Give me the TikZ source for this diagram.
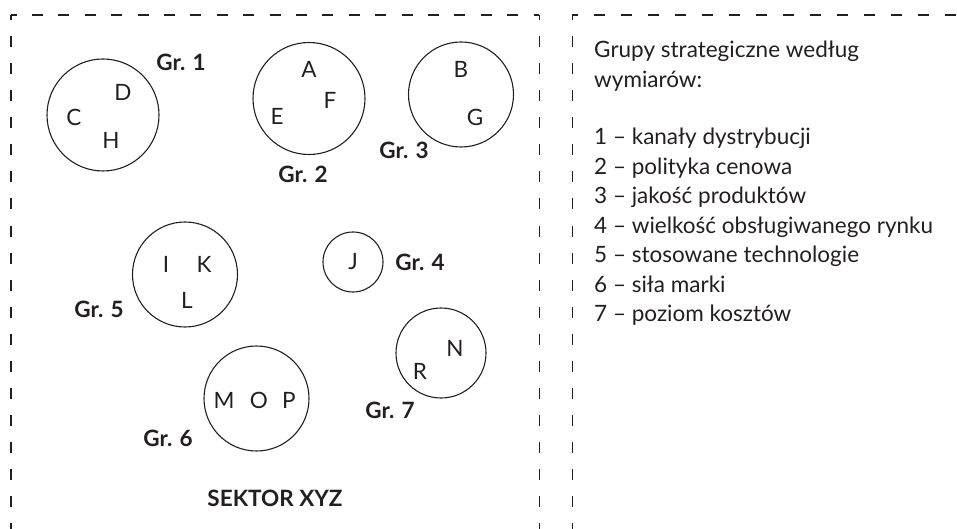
\documentclass[tikz,border=0pt]{standalone}
\usepackage{fontspec}
\setmainfont{Lato}
\usetikzlibrary{positioning}

\definecolor{ink}{HTML}{231F20}

\begin{document}
\begin{tikzpicture}[x=1pt,y=-1pt,
        every node/.style={text=ink,font=\fontsize{22.5}{27}\selectfont},
        frame/.style={draw=ink,line width=1.1pt,dash pattern=on 11pt off 16pt,dash phase=5.5pt}]

    \useasboundingbox (0,0) rectangle (957,529);
    \clip (0,0) rectangle (957,529);

    % dashed frames, open at the bottom
    \coordinate (tl) at (11,15);
    \coordinate (tr) at (539.3,15);
    \coordinate (ltl) at (572.3,15);
    \draw[frame] (tl) -- (11,545);
    \draw[frame,dash pattern=on 11pt off 15.4pt] (tl) -- (tr);
    \draw[frame] (tr) -- (539.3,545);
    \draw[frame] (ltl) -- (ltl -| 970,0);
    \draw[frame] (ltl) -- (572.3,545);

    % strategic groups
    \begin{scope}[every node/.style={circle,draw=ink,line width=1.1pt,inner sep=0pt}]
        \node[minimum size=112pt] (gr1) at (103,115) {};
        \node[minimum size=112pt] (gr2) at (309,98.5) {};
        \node[minimum size=105pt] (gr3) at (461,94.5) {};
        \node[minimum size=60pt]  (gr4) at (353,262) {};
        \node[minimum size=105pt] (gr5) at (185,274.5) {};
        \node[minimum size=105pt] (gr6) at (256.5,398.5) {};
        \node[minimum size=90pt]  (gr7) at (441,353) {};
    \end{scope}

    % firms
    \begin{scope}[every node/.style={text=ink,inner sep=0pt,font=\fontsize{22.5}{27}\selectfont}]
        \node (D) at (123,92.5) {D};
        \node (C) at (74,117) {C};
        \node (H) at (111,140) {H};
        \node (A) at (309,69) {A};
        \node (F) at (330,100) {F};
        \node (E) at (277,116) {E};
        \node (B) at (461,69) {B};
        \node (G) at (475,117) {G};
        \node (J) at (353,262) {J};
        \node (I) at (166,264) {I};
        \node (K) at (204,264) {K};
        \node (L) at (187,300) {L};
        \node (M) at (224,400) {M};
        \node (O) at (259,400) {O};
        \node (P) at (289,400) {P};
        \node (N) at (455,348) {N};
        \node (R) at (420,371) {R};
    \end{scope}

    % group labels
    \begin{scope}[every node/.style={text=ink,inner sep=0pt,font=\fontsize{22.5}{27}\selectfont\bfseries}]
        \node (lab1) at (181,62) {Gr. 1};
        \node (lab2) at (303,174) {Gr. 2};
        \node (lab3) at (404,150) {Gr. 3};
        \node (lab4) at (420,262) {Gr. 4};
        \node (lab5) at (99,309) {Gr. 5};
        \node (lab6) at (168,438) {Gr. 6};
        \node (lab7) at (390,410) {Gr. 7};
        \node (sector) at (275,498) {SEKTOR XYZ};
    \end{scope}

    % legend
    \begin{scope}[every node/.style={text=ink,inner sep=0pt,anchor=base west,font=\fontsize{22.5}{27}\selectfont}]
        \node (head1) at (594,58) {Grupy strategiczne według};
        \node (head2) at (594,87.4) {wymiarów:};
        \node (dim1) at (594,145) {1 – kanały dystrybucji};
        \node (dim2) at (594,174.4) {2 – polityka cenowa};
        \node (dim3) at (594,203.8) {3 – jakość produktów};
        \node (dim4) at (594,233.2) {4 – wielkość obsługiwanego rynku};
        \node (dim5) at (594,262.6) {5 – stosowane technologie};
        \node (dim6) at (594,292) {6 – siła marki};
        \node (dim7) at (594,321.4) {7 – poziom kosztów};
    \end{scope}
\end{tikzpicture}
\end{document}
